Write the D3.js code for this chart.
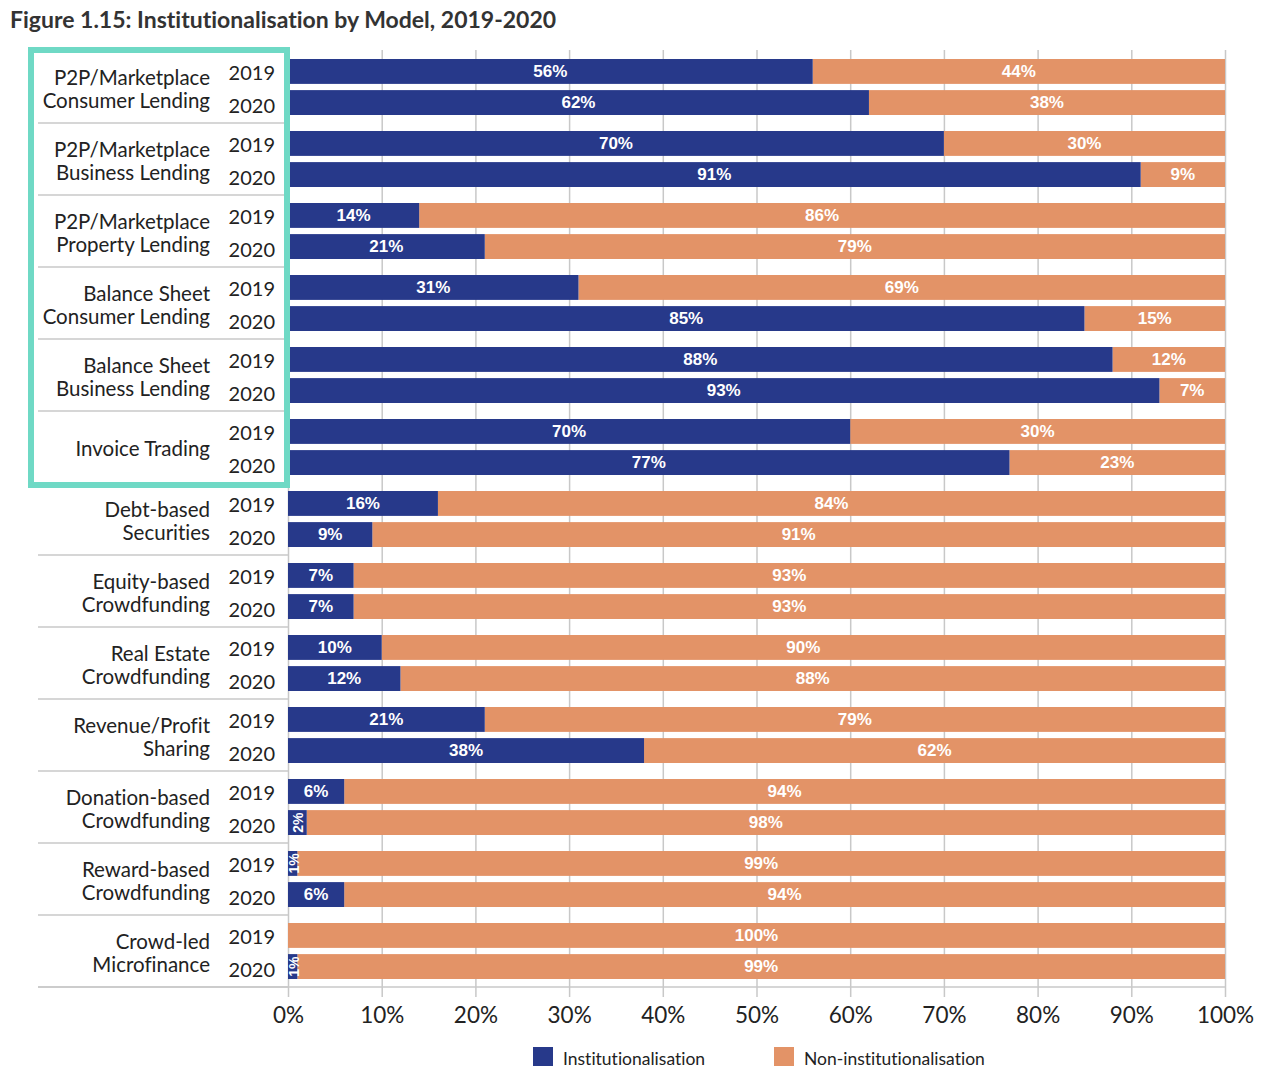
<!DOCTYPE html>
<html>
<head>
<meta charset="utf-8">
<script src="https://cdn.jsdelivr.net/npm/d3@7"></script>
<style>
  body { margin: 0; background: #fff; }
  svg { display: block; }
  text { font-variant-ligatures: none; }
</style>
</head>
<body>
<svg id="chart" width="1280" height="1080"></svg>
<script>
// categories, top to bottom (line breaks as in the figure)
var categories = [
    ["P2P/Marketplace", "Consumer Lending"],
    ["P2P/Marketplace", "Business Lending"],
    ["P2P/Marketplace", "Property Lending"],
    ["Balance Sheet", "Consumer Lending"],
    ["Balance Sheet", "Business Lending"],
    ["Invoice Trading"],
    ["Debt-based", "Securities"],
    ["Equity-based", "Crowdfunding"],
    ["Real Estate", "Crowdfunding"],
    ["Revenue/Profit", "Sharing"],
    ["Donation-based", "Crowdfunding"],
    ["Reward-based", "Crowdfunding"],
    ["Crowd-led", "Microfinance"]
];
var years = ["2019", "2020"];

// institutionalisation share (bar lengths, as drawn)
var inst2019 = [56, 70, 14, 31, 88, 60, 16, 7, 10, 21, 6, 1, 0];
var inst2020 = [62, 91, 21, 85, 93, 77, 9, 7, 12, 38, 2, 6, 1];

// labels printed on the bars (Invoice Trading 2019 is labelled 70% / 30% in the original)
var instLabel2019 = ["56%", "70%", "14%", "31%", "88%", "70%", "16%", "7%", "10%", "21%", "6%", "1%", ""];
var instLabel2020 = ["62%", "91%", "21%", "85%", "93%", "77%", "9%", "7%", "12%", "38%", "2%", "6%", "1%"];
var nonLabel2019 = ["44%", "30%", "86%", "69%", "12%", "30%", "84%", "93%", "90%", "79%", "94%", "99%", "100%"];
var nonLabel2020 = ["38%", "9%", "79%", "15%", "7%", "23%", "91%", "93%", "88%", "62%", "98%", "94%", "99%"];

var ticks = [0, 10, 20, 30, 40, 50, 60, 70, 80, 90, 100];
var highlighted = 6; // first six models are boxed

var navy = "#27398a", orange = "#e39367", teal = "#6fd9c5";

var svg = d3.select("#chart");

var rows = [];
categories.forEach(function (c, i) {
    rows.push({cat: i, year: "2019", v: inst2019[i], il: instLabel2019[i], nl: nonLabel2019[i]});
    rows.push({cat: i, year: "2020", v: inst2020[i], il: instLabel2020[i], nl: nonLabel2020[i]});
});

var x = d3.scaleLinear().domain([0, 100]).range([288, 1225]);
var y = d3.scaleBand().domain(d3.range(categories.length)).range([51, 987]);
var yy = d3.scaleBand().domain(years).range([8, 64]).paddingInner(0.2);

// title
svg.append("text")
    .attr("x", 10).attr("y", 28)
    .attr("font-family", "Lato, sans-serif")
    .attr("font-weight", "bold")
    .attr("font-size", 23)
    .attr("fill", "#333")
    .text("Figure 1.15: Institutionalisation by Model, 2019-2020");

// grid + tick labels
var axis = d3.axisBottom(x)
    .tickValues(ticks)
    .tickFormat(function (d) { return d + "%"; })
    .tickSize(-(997 - 50))
    .tickSizeOuter(0)
    .tickPadding(10);

var gAxis = svg.append("g")
    .attr("transform", "translate(0,997)")
    .call(axis);
gAxis.select(".domain").remove();
gAxis.selectAll(".tick line").attr("stroke", "#c8c8c8").attr("stroke-width", 1.5);
gAxis.selectAll(".tick text")
    .attr("font-family", "Lato, sans-serif")
    .attr("font-size", 22.5)
    .attr("fill", "#222");

// separators between the categories on the label side
svg.append("g").selectAll("line")
    .data(d3.range(categories.length))
    .join("line")
    .attr("x1", 38).attr("x2", 288)
    .attr("y1", function (d) { return y(d) + y.bandwidth(); })
    .attr("y2", function (d) { return y(d) + y.bandwidth(); })
    .attr("stroke", "#c8c8c8").attr("stroke-width", 1.5);

// bottom axis line
svg.append("line")
    .attr("x1", 38).attr("x2", x(100))
    .attr("y1", 987).attr("y2", 987)
    .attr("stroke", "#c8c8c8").attr("stroke-width", 1.5);

var bars = svg.append("g");

// non-institutionalisation (rest of the bar)
bars.selectAll("rect.non")
    .data(rows)
    .join("rect")
    .attr("class", "non")
    .attr("x", function (d) { return x(d.v); })
    .attr("y", function (d) { return y(d.cat) + yy(d.year); })
    .attr("width", function (d) { return x(100) - x(d.v); })
    .attr("height", yy.bandwidth())
    .attr("fill", orange);

bars.selectAll("rect.inst")
    .data(rows.filter(function (d) { return d.v > 0; }))
    .join("rect")
    .attr("class", "inst")
    .attr("x", x(0))
    .attr("y", function (d) { return y(d.cat) + yy(d.year); })
    .attr("width", function (d) { return x(d.v) - x(0); })
    .attr("height", yy.bandwidth())
    .attr("fill", navy);

function barLabel(sel) {
    sel.attr("fill", "#fff")
        .attr("font-family", "'Liberation Sans', Arial, sans-serif")
        .attr("font-weight", "bold")
        .attr("font-size", 17)
        .attr("text-anchor", "middle")
        .attr("dominant-baseline", "central");
}

// labels on navy segments; narrow ones are turned on their side
bars.selectAll("text.inst")
    .data(rows.filter(function (d) { return d.il !== ""; }))
    .join("text")
    .attr("class", "inst")
    .call(barLabel)
    .attr("transform", function (d) {
        var cx = (x(0) + x(d.v)) / 2 + (d.v < 4 ? 1 : 0);
        var cy = y(d.cat) + yy(d.year) + yy.bandwidth() / 2;
        return "translate(" + cx + "," + cy + ")" + (d.v < 4 ? " rotate(-90)" : "");
    })
    .attr("font-size", function (d) { return d.v < 4 ? 14 : 17; })
    .text(function (d) { return d.il; });

bars.selectAll("text.non")
    .data(rows)
    .join("text")
    .attr("class", "non")
    .call(barLabel)
    .attr("x", function (d) { return (x(d.v) + x(100)) / 2; })
    .attr("y", function (d) { return y(d.cat) + yy(d.year) + yy.bandwidth() / 2; })
    .text(function (d) { return d.nl; });

// category names
var catG = svg.append("g")
    .attr("font-family", "Lato, sans-serif")
    .attr("font-size", 20.5)
    .attr("fill", "#222")
    .attr("text-anchor", "end");

categories.forEach(function (lines, i) {
    var mid = y(i) + y.bandwidth() / 2 + 1;
    lines.forEach(function (t, k) {
        catG.append("text")
            .attr("x", 210)
            .attr("y", mid + (k - (lines.length - 1) / 2) * 23)
            .attr("dominant-baseline", "central")
            .text(t);
    });
});

// year labels
catG.selectAll("text.year")
    .data(rows)
    .join("text")
    .attr("class", "year")
    .attr("x", 275)
    .attr("font-size", 20)
    .attr("y", function (d) { return y(d.cat) + yy(d.year) + yy.bandwidth() / 2 + (d.year === "2019" ? 1 : 2); })
    .attr("dominant-baseline", "central")
    .text(function (d) { return d.year; });

// highlight box around the lending models
svg.append("rect")
    .attr("x", 31).attr("y", 50)
    .attr("width", 256)
    .attr("height", y(highlighted) - 50 + 2)
    .attr("fill", "none")
    .attr("stroke", teal)
    .attr("stroke-width", 6);

// legend
var legend = [
    {name: "Institutionalisation", color: navy, x: 533},
    {name: "Non-institutionalisation", color: orange, x: 774}
];
var lg = svg.append("g").selectAll("g")
    .data(legend)
    .join("g")
    .attr("transform", function (d) { return "translate(" + d.x + ",1047)"; });
lg.append("rect")
    .attr("width", 20).attr("height", 19)
    .attr("fill", function (d) { return d.color; });
lg.append("text")
    .attr("x", 30).attr("y", 11)
    .attr("dominant-baseline", "central")
    .attr("font-family", "Lato, sans-serif")
    .attr("font-size", 17.5)
    .attr("fill", "#222")
    .text(function (d) { return d.name; });
</script>
</body>
</html>
